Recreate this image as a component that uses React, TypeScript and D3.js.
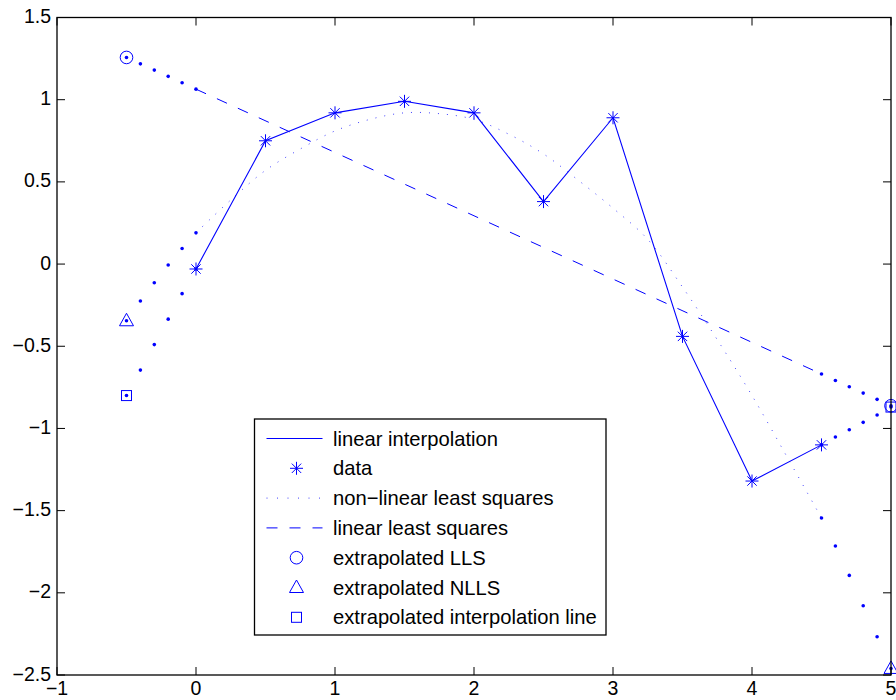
import * as d3 from "d3";

const dataX = [0, 0.5, 1, 1.5, 2, 2.5, 3, 3.5, 4, 4.5];
const dataY = [-0.03, 0.75, 0.92, 0.99, 0.92, 0.38, 0.89, -0.44, -1.32, -1.1];

const llsX = [0, 4.5];
const llsY = [1.064, -0.669];

const nllsX = [0, 0.25, 0.5, 0.75, 1, 1.25, 1.5, 1.75, 2, 2.25, 2.5, 2.75, 3, 3.25, 3.5, 3.75, 4, 4.25, 4.5];
const nllsY = [0.19, 0.39, 0.57, 0.7, 0.81, 0.88, 0.92, 0.915, 0.88, 0.79, 0.67, 0.51, 0.34, 0.15, -0.14, -0.46, -0.8, -1.17, -1.545];

const extLeftX = [-0.5, -0.4, -0.3, -0.2, -0.1, 0];
const extRightX = [4.5, 4.6, 4.7, 4.8, 4.9, 5];

const llsLeftY = [1.257, 1.218, 1.18, 1.142, 1.103, 1.064];
const llsRightY = [-0.669, -0.708, -0.746, -0.785, -0.823, -0.862];
const nllsLeftY = [-0.345, -0.225, -0.114, -0.006, 0.095, 0.19];
const nllsRightY = [-1.545, -1.715, -1.894, -2.079, -2.267, -2.46];
const interpLeftY = [-0.8, -0.645, -0.49, -0.335, -0.18, -0.03];
const interpRightY = [-1.1, -1.052, -1.008, -0.963, -0.918, -0.87];

const xTicks = [-1, 0, 1, 2, 3, 4, 5];
const yTicks = [-2.5, -2, -1.5, -1, -0.5, 0, 0.5, 1, 1.5];

const legendLabels = [
  "linear interpolation",
  "data",
  "non\u2212linear least squares",
  "linear least squares",
  "extrapolated LLS",
  "extrapolated NLLS",
  "extrapolated interpolation line",
];

const W = 896;
const H = 700;
const left = 57;
const right = 891;
const top = 17.5;
const bottom = 675;
const BLUE = "#0000ff";
const FONT = "'Liberation Sans', Arial, Helvetica, sans-serif";

const x = d3.scaleLinear().domain([-1, 5]).range([left, right]);
const y = d3.scaleLinear().domain([-2.5, 1.5]).range([bottom, top]);
const fmt = (v: number) => d3.format("")(v);

const star = (cx: number, cy: number, r = 6.5) => {
  const d = r * 0.72;
  return `M${cx - r},${cy}H${cx + r}M${cx},${cy - r}V${cy + r}M${cx - d},${cy - d}L${cx + d},${cy + d}M${cx - d},${cy + d}L${cx + d},${cy - d}`;
};
const tri = (cx: number, cy: number) =>
  `M${cx},${cy - 7.5}L${cx + 7},${cy + 5}L${cx - 7},${cy + 5}Z`;

const Marker = ({ kind, cx, cy }: { kind: string; cx: number; cy: number }) => {
  if (kind === "circle") return <circle cx={cx} cy={cy} r={6.3} fill="none" stroke={BLUE} strokeWidth={1} />;
  if (kind === "tri") return <path d={tri(cx, cy)} fill="none" stroke={BLUE} strokeWidth={1} />;
  if (kind === "square") return <rect x={cx - 5} y={cy - 5} width={10} height={10} fill="none" stroke={BLUE} strokeWidth={1} />;
  return <path d={star(cx, cy)} stroke={BLUE} strokeWidth={1} fill="none" />;
};

export default function App() {
  const line = d3
    .line<[number, number]>()
    .x((d) => x(d[0]))
    .y((d) => y(d[1]));
  const smooth = line.curve(d3.curveCatmullRom);
  const zip = (xs: number[], ys: number[]) => xs.map((v, i) => [v, ys[i]] as [number, number]);

  const dots = [
    ...zip(extLeftX, llsLeftY),
    ...zip(extRightX, llsRightY),
    ...zip(extLeftX, nllsLeftY),
    ...zip(extRightX, nllsRightY),
    ...zip(extLeftX, interpLeftY),
    ...zip(extRightX, interpRightY),
  ];

  const endMarkers: { kind: string; p: [number, number] }[] = [
    { kind: "circle", p: [extLeftX[0], llsLeftY[0]] },
    { kind: "circle", p: [extRightX[5], llsRightY[5]] },
    { kind: "tri", p: [extLeftX[0], nllsLeftY[0]] },
    { kind: "tri", p: [extRightX[5], nllsRightY[5]] },
    { kind: "square", p: [extLeftX[0], interpLeftY[0]] },
    { kind: "square", p: [extRightX[5], interpRightY[5]] },
  ];

  // legend geometry
  const lgX = 254.5;
  const lgY = 419;
  const lgW = 351.5;
  const lgH = 216;
  const rowY = (i: number) => 438.5 + i * 29.8;
  const sampleX0 = 266.5;
  const sampleX1 = 322.5;
  const markX = 296.5;

  return (
    <svg
      width={W}
      height={H}
      style={{ position: "absolute", left: 0, top: 0, background: "#fff" }}
      fontFamily={FONT}
    >
      <rect x={0} y={0} width={W} height={H} fill="#fff" />

      {/* non-linear least squares (dotted) */}
      <path
        d={smooth(zip(nllsX, nllsY)) || ""}
        fill="none"
        stroke={BLUE}
        strokeWidth={1}
        strokeDasharray="1 8"
        opacity={0.75}
      />
      {/* linear least squares (dashed) */}
      <path
        d={line.curve(d3.curveLinear)(zip(llsX, llsY)) || ""}
        fill="none"
        stroke={BLUE}
        strokeWidth={1}
        strokeDasharray="11 12"
      />
      {/* linear interpolation */}
      <path
        d={line.curve(d3.curveLinear)(zip(dataX, dataY)) || ""}
        fill="none"
        stroke={BLUE}
        strokeWidth={1.1}
      />
      {dataX.map((v, i) => (
        <Marker key={"s" + i} kind="star" cx={x(v)} cy={y(dataY[i])} />
      ))}

      {/* extrapolated dots */}
      {dots.map((d, i) => (
        <circle key={"d" + i} cx={x(d[0])} cy={y(d[1])} r={1.8} fill={BLUE} />
      ))}
      {endMarkers.map((m, i) => (
        <Marker key={"m" + i} kind={m.kind} cx={x(m.p[0])} cy={y(m.p[1])} />
      ))}

      {/* axes box */}
      <rect x={left} y={top} width={right - left} height={bottom - top} fill="none" stroke="#000" strokeWidth={1.3} />
      {xTicks.map((t) => (
        <g key={"xt" + t}>
          <line x1={x(t)} x2={x(t)} y1={bottom} y2={bottom - 8} stroke="#000" strokeWidth={1} />
          <line x1={x(t)} x2={x(t)} y1={top} y2={top + 8} stroke="#000" strokeWidth={1} />
          <text x={x(t)} y={bottom + 20} textAnchor="middle" fontSize={19.5} fill="#000">
            {fmt(t)}
          </text>
        </g>
      ))}
      {yTicks.map((t) => (
        <g key={"yt" + t}>
          <line x1={left} x2={left + 8} y1={y(t)} y2={y(t)} stroke="#000" strokeWidth={1} />
          <line x1={right} x2={right - 8} y1={y(t)} y2={y(t)} stroke="#000" strokeWidth={1} />
          <text x={51} y={y(t) + 5.5} textAnchor="end" fontSize={19.5} fill="#000">
            {fmt(t)}
          </text>
        </g>
      ))}

      {/* legend */}
      <rect x={lgX} y={lgY} width={lgW} height={lgH} fill="#fff" stroke="#000" strokeWidth={1.3} />
      <line x1={sampleX0} x2={sampleX1} y1={rowY(0)} y2={rowY(0)} stroke={BLUE} strokeWidth={1.1} />
      <Marker kind="star" cx={markX} cy={rowY(1)} />
      <line x1={sampleX0} x2={sampleX1} y1={rowY(2)} y2={rowY(2)} stroke={BLUE} strokeWidth={1} strokeDasharray="1 9.5" opacity={0.75} />
      <line x1={sampleX0} x2={sampleX1} y1={rowY(3)} y2={rowY(3)} stroke={BLUE} strokeWidth={1} strokeDasharray="11 12" />
      <Marker kind="circle" cx={markX} cy={rowY(4)} />
      <Marker kind="tri" cx={markX} cy={rowY(5)} />
      <Marker kind="square" cx={markX} cy={rowY(6)} />
      {legendLabels.map((l, i) => (
        <text key={l} x={333} y={rowY(i)} dy="0.35em" fontSize={20.2} fill="#000">
          {l}
        </text>
      ))}
    </svg>
  );
}
